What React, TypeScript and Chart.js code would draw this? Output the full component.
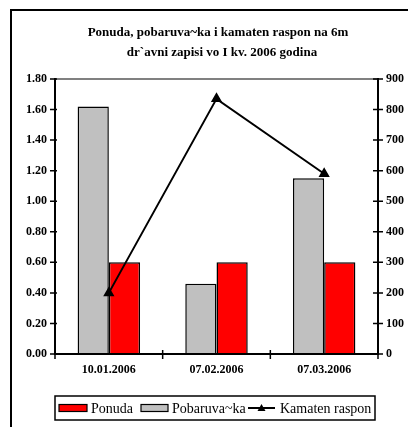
import { useEffect, useRef } from 'react';
import { Chart, registerables } from 'chart.js';

Chart.register(...registerables);

const categories = ['10.01.2006', '07.02.2006', '07.03.2006'];
const ponuda = [0.6, 0.6, 0.6];
const pobaruvacka = [1.62, 0.46, 1.15];
const kamatenRaspon = [200, 835, 590];
const titleLines = ['Ponuda, pobaruva~ka i kamaten raspon na 6m', 'dr`avni zapisi vo I kv. 2006 godina'];
const seriesNames = ['Ponuda', 'Pobaruva~ka', 'Kamaten raspon'];

const FONT = "'Liberation Serif', 'Times New Roman', serif";

const decorPlugin = {
  id: 'decor',
  afterDraw(chart: any) {
    const ctx = chart.ctx as CanvasRenderingContext2D;
    const area = chart.chartArea;
    ctx.save();
    // outer frame
    ctx.strokeStyle = '#000';
    ctx.lineWidth = 2;
    ctx.beginPath();
    ctx.moveTo(11, 427);
    ctx.lineTo(11, 10);
    ctx.lineTo(408, 10);
    ctx.stroke();

    // title
    ctx.fillStyle = '#000';
    ctx.textAlign = 'center';
    ctx.textBaseline = 'middle';
    ctx.font = `bold 13px ${FONT}`;
    ctx.fillText(titleLines[0], 218, 33);
    ctx.fillText(titleLines[1], 222, 53);
    ctx.textAlign = 'left';

    // crossing tick marks
    ctx.lineWidth = 1.5;
    const yl = chart.scales.y;
    const yr = chart.scales.y1;
    ctx.beginPath();
    yl.ticks.forEach((_t: any, i: number) => {
      const y = yl.getPixelForTick(i);
      ctx.moveTo(area.left - 5, y);
      ctx.lineTo(area.left + 2, y);
    });
    yr.ticks.forEach((_t: any, i: number) => {
      const y = yr.getPixelForTick(i);
      ctx.moveTo(area.right - 5, y);
      ctx.lineTo(area.right + 5, y);
    });
    const n = categories.length;
    for (let i = 0; i <= n; i++) {
      const x = area.left + (i * (area.right - area.left)) / n;
      ctx.moveTo(x, area.bottom - 4);
      ctx.lineTo(x, area.bottom + 5);
    }
    ctx.stroke();

    // legend
    const bx = 55, by = 396, bw = 320, bh = 24;
    ctx.lineWidth = 1.5;
    ctx.strokeRect(bx, by, bw, bh);
    const cy = by + bh / 2;
    ctx.font = `14px ${FONT}`;
    ctx.textBaseline = 'middle';
    ctx.lineWidth = 1.2;
    // Ponuda
    ctx.fillStyle = '#ff0000';
    ctx.fillRect(59, cy - 3.5, 28, 7);
    ctx.strokeRect(59, cy - 3.5, 28, 7);
    ctx.fillStyle = '#000';
    ctx.fillText(seriesNames[0], 91, cy + 1);
    // Pobaruva~ka
    ctx.fillStyle = '#c0c0c0';
    ctx.fillRect(141, cy - 3.5, 27, 7);
    ctx.strokeRect(141, cy - 3.5, 27, 7);
    ctx.fillStyle = '#000';
    ctx.fillText(seriesNames[1], 172, cy + 1);
    // Kamaten raspon
    ctx.lineWidth = 2;
    ctx.beginPath();
    ctx.moveTo(248, cy);
    ctx.lineTo(275, cy);
    ctx.stroke();
    ctx.beginPath();
    ctx.moveTo(261.5, cy - 4);
    ctx.lineTo(265.5, cy + 3);
    ctx.lineTo(257.5, cy + 3);
    ctx.closePath();
    ctx.fill();
    ctx.fillText(seriesNames[2], 280, cy + 1);
    ctx.restore();
  },
};

export default function App() {
  const ref = useRef<HTMLCanvasElement | null>(null);
  useEffect(() => {
    if (!ref.current) return;
    const chart = new Chart(ref.current, {
      type: 'bar',
      data: {
        labels: categories,
        datasets: [
          {
            type: 'line',
            label: seriesNames[2],
            data: kamatenRaspon,
            yAxisID: 'y1',
            borderColor: '#000',
            backgroundColor: '#000',
            borderWidth: 2,
            pointStyle: 'triangle',
            pointRadius: 4.5,
            pointBackgroundColor: '#000',
            pointBorderColor: '#000',
            tension: 0,
            order: 0,
          } as any,
          {
            label: seriesNames[1],
            data: pobaruvacka,
            yAxisID: 'y',
            backgroundColor: '#c0c0c0',
            borderColor: '#000',
            borderWidth: 1.5,
            order: 1,
            barPercentage: 1,
            categoryPercentage: 0.58,
          },
          {
            label: seriesNames[0],
            data: ponuda,
            yAxisID: 'y',
            backgroundColor: '#ff0000',
            borderColor: '#000',
            borderWidth: 1.5,
            order: 2,
            barPercentage: 1,
            categoryPercentage: 0.58,
          },
        ],
      },
      options: {
        responsive: false,
        animation: false,
        devicePixelRatio: 1,
        layout: { padding: { left: 12, right: 4, top: 79, bottom: 47 } },
        plugins: {
          legend: { display: false },
          tooltip: { enabled: false },
          title: { display: false },
        },
        scales: {
          x: {
            offset: true,
            grid: { display: false, drawTicks: false },
            border: { display: true, color: '#000', width: 2 },
            ticks: { color: '#000', font: { family: FONT, size: 12, weight: 'bold' }, padding: 9 },
            afterFit: (s: any) => { s.height = 26; },
          },
          y: {
            position: 'left',
            min: 0,
            max: 1.8,
            ticks: {
              stepSize: 0.2,
              color: '#000',
              font: { family: FONT, size: 12, weight: 'bold' },
              padding: 8,
              callback: (v: any) => Number(v).toFixed(2),
            },
            grid: {
              drawTicks: false,
              color: (c: any) => (c.tick && Math.abs(c.tick.value - 1.8) < 1e-6 ? '#808080' : 'rgba(0,0,0,0)'),
              lineWidth: 2,
            },
            border: { display: true, color: '#000', width: 2 },
            afterFit: (s: any) => { s.width = 43; },
          },
          y1: {
            position: 'right',
            min: 0,
            max: 900,
            ticks: {
              stepSize: 100,
              color: '#000',
              font: { family: FONT, size: 12, weight: 'bold' },
              padding: 8,
            },
            grid: { display: false, drawTicks: false },
            border: { display: true, color: '#000', width: 2 },
            afterFit: (s: any) => { s.width = 26; },
          },
        },
      },
      plugins: [decorPlugin],
    });
    return () => chart.destroy();
  }, []);
  return (
    <div style={{ position: 'fixed', left: 0, top: 0, width: 408, height: 427, background: '#fff' }}>
      <canvas ref={ref} width={408} height={427} style={{ width: 408, height: 427, display: 'block' }} />
    </div>
  );
}
